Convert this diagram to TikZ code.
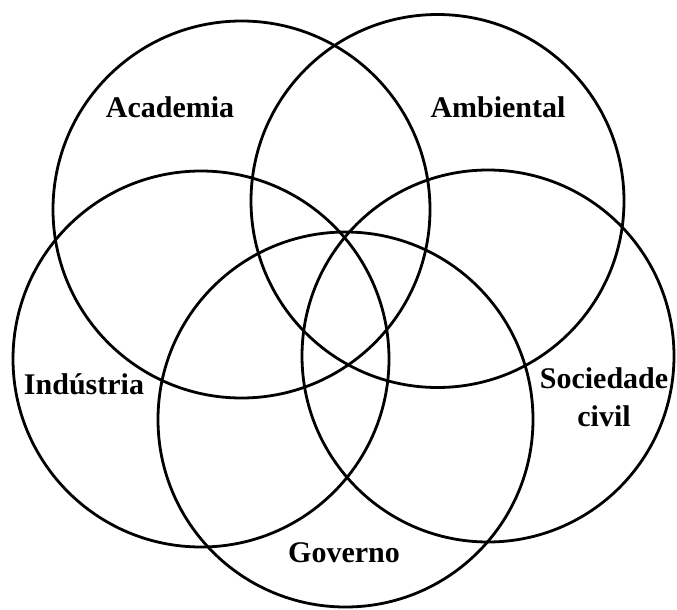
\documentclass[tikz,border=0pt]{standalone}
\usepackage{fontspec}
\setmainfont{Liberation Serif}
\begin{document}
\begin{tikzpicture}[x=1pt,y=-1pt,
  ring/.style={draw=black, line width=2.8pt, circle, inner sep=0pt, outer sep=0pt},
  lbl/.style={font=\bfseries\fontsize{30}{38}\selectfont, inner sep=0pt, align=center}]
\useasboundingbox (0,0) rectangle (677,610);
\node[ring, minimum size=377pt] (acad) at (241.5,209.5) {};
\node[ring, minimum size=373pt] (amb) at (437.5,201) {};
\node[ring, minimum size=376pt] (ind) at (201,359) {};
\node[ring, minimum size=372pt] (soc) at (488,356) {};
\node[ring, minimum size=375pt] (gov) at (345.5,419.5) {};
\node[lbl] (tacad) at (170,107) {Academia};
\node[lbl] (tamb) at (498,107) {Ambiental};
\node[lbl] (tind) at (84,384) {Indústria};
\node[lbl] (tsoc) at (604,397) {Sociedade\\civil};
\node[lbl] (tgov) at (344,553) {Governo};
\end{tikzpicture}
\end{document}
